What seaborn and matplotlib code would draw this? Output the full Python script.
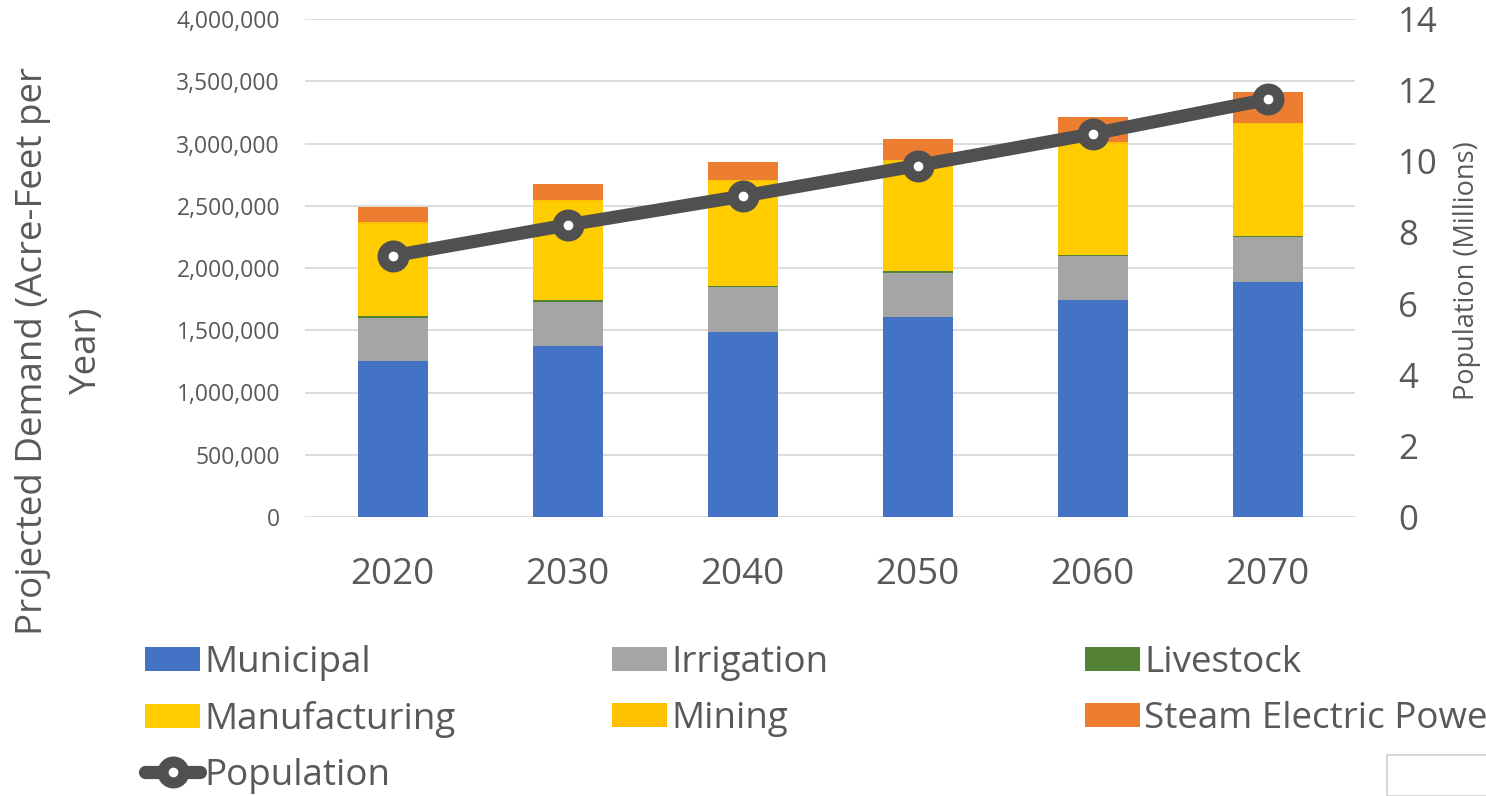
import numpy as np
import matplotlib
matplotlib.use("Agg")
import matplotlib.pyplot as plt
from matplotlib.patches import Patch, Rectangle
from matplotlib.lines import Line2D
from matplotlib.ticker import FuncFormatter, MultipleLocator
import seaborn as sns

# Projected water demand by use category (acre-feet per year)
years = ["2020", "2030", "2040", "2050", "2060", "2070"]
municipal = [1253000, 1373000, 1489000, 1609000, 1743000, 1890000]
irrigation = [348000, 354000, 356000, 353000, 353000, 357000]
livestock = [12000, 12000, 12000, 12000, 12000, 12000]
manufacturing = [744000, 792000, 838000, 880000, 890000, 896000]
mining = [15000, 15000, 14000, 13000, 12000, 12000]
steam_electric = [115000, 126000, 140000, 167000, 205000, 244000]

# Projected population (millions)
population_millions = [7.34, 8.21, 9.02, 9.88, 10.77, 11.74]

categories = ["Municipal", "Irrigation", "Livestock",
              "Manufacturing", "Mining", "Steam Electric Power"]
colors = ["#4472C4", "#A5A5A5", "#548235", "#FFCC00", "#FFC000", "#ED7D31"]
line_color = "#505050"
text_color = "#595959"

sns.set_theme(style="white")
plt.rcParams["font.family"] = ["Open Sans", "DejaVu Sans"]

fig = plt.figure(figsize=(14.86, 7.96), dpi=100)
ax = fig.add_axes([305 / 1486, 1 - 517 / 796, 1050 / 1486, 498 / 796])

# Stacked bars: draw cumulative totals from the top layer downwards
series = [municipal, irrigation, livestock, manufacturing, mining, steam_electric]
cum = np.cumsum(np.array(series, dtype=float), axis=0)
for i in reversed(range(len(series))):
    sns.barplot(x=years, y=cum[i], color=colors[i], width=0.4, saturation=1,
                errorbar=None, linewidth=0, ax=ax)

ax.set_xlim(-0.5, 5.5)
ax.set_ylim(0, 4_000_000)
ax.yaxis.set_major_locator(MultipleLocator(500_000))
ax.yaxis.set_major_formatter(FuncFormatter(lambda v, p: f"{v:,.0f}"))
ax.yaxis.grid(True, color="#D9D9D9", linewidth=1.3)
ax.xaxis.grid(False)
ax.set_axisbelow(True)
for s in ax.spines.values():
    s.set_visible(False)
ax.tick_params(axis="y", labelsize=16.5, colors=text_color, pad=18, length=0)
ax.tick_params(axis="x", labelsize=26.5, colors=text_color, pad=28.5, length=0)
ax.set_xlabel("")
ax.set_ylabel("")

# Population line on the secondary axis
ax2 = ax.twinx()
sns.lineplot(x=years, y=population_millions, ax=ax2, color=line_color,
             linewidth=9.5, marker="o", markersize=15, markerfacecolor="white",
             markeredgecolor=line_color, markeredgewidth=8, sort=False)
ax2.set_ylim(0, 14)
ax2.yaxis.set_major_locator(MultipleLocator(2))
ax2.tick_params(axis="y", labelsize=25, colors=text_color, pad=31, length=0)
ax2.grid(False)
for s in ax2.spines.values():
    s.set_visible(False)
ax2.set_ylabel("")
ax2.set_xlabel("")
ax.set_xlim(-0.5, 5.5)

# Axis titles
fig.text(60 / 1486, 1 - 351 / 796, "Projected Demand (Acre-Feet per\nYear)",
         rotation=90, ha="center", va="center", multialignment="center",
         fontsize=26.5, color=text_color, linespacing=1.7)
fig.text(1467 / 1486, 1 - 271 / 796, "Population (Millions)", rotation=90,
         ha="center", va="center", fontsize=19.5, color=text_color)

# Legend laid out in three equal-width columns
patches = {c: Patch(facecolor=col, edgecolor="none") for c, col in zip(categories, colors)}
pop_handle = Line2D([], [], color=line_color, linewidth=9.5, marker="o",
                    markersize=15, markerfacecolor="white",
                    markeredgecolor=line_color, markeredgewidth=8)
columns = [
    ([patches["Municipal"], patches["Manufacturing"], pop_handle],
     ["Municipal", "Manufacturing", "Population"], 145),
    ([patches["Irrigation"], patches["Mining"]], ["Irrigation", "Mining"], 612),
    ([patches["Livestock"], patches["Steam Electric Power"]],
     ["Livestock", "Steam Electric Power"], 1085),
]
for handles, labels, xpix in columns:
    fig.legend(handles, labels, loc="upper left",
               bbox_to_anchor=(xpix / 1486, 1 - 645 / 796),
               frameon=False, fontsize=26.5, handlelength=1.5,
               handleheight=0.65, handletextpad=0.1, labelspacing=0.54,
               borderpad=0, borderaxespad=0, labelcolor=text_color)

# Small boxed element at the lower right corner
fig.add_artist(Rectangle((1387 / 1486, 0), 0.2, (796 - 755) / 796,
                         transform=fig.transFigure, facecolor="white",
                         edgecolor="#D0D0D0", linewidth=1.2, zorder=5))

fig.savefig("out.png", dpi=100)
